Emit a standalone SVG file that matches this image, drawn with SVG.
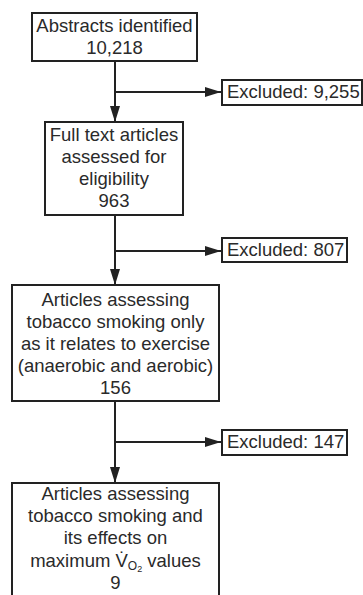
<svg xmlns="http://www.w3.org/2000/svg" width="363" height="595" viewBox="0 0 363 595">
<style>
.box{fill:#fff;stroke:#222;stroke-width:2}
.t{font-family:"Liberation Sans",Arial,sans-serif;font-size:18.5px;fill:#2a2a2a;text-anchor:middle}
.tl{font-family:"Liberation Sans",Arial,sans-serif;font-size:18.5px;fill:#2a2a2a}
.c{stroke:#222;stroke-width:2;fill:none}
</style>
<defs>
<marker id="ah" viewBox="0 0 16 10" refX="16" refY="5" markerWidth="16" markerHeight="10" markerUnits="userSpaceOnUse" orient="auto">
<path d="M0,0 L16,5 L0,10 Z" fill="#222"/>
</marker>
</defs>
<rect width="363" height="595" fill="#fff"/>
<g id="connectors">
<line class="c" x1="115" y1="61" x2="115" y2="122" marker-end="url(#ah)"/>
<line class="c" x1="115" y1="92" x2="221" y2="92" marker-end="url(#ah)"/>
<line class="c" x1="115" y1="215" x2="115" y2="285" marker-end="url(#ah)"/>
<line class="c" x1="115" y1="251" x2="221" y2="251" marker-end="url(#ah)"/>
<line class="c" x1="115" y1="401" x2="115" y2="483" marker-end="url(#ah)"/>
<line class="c" x1="115" y1="442" x2="221" y2="442" marker-end="url(#ah)"/>
</g>
<g id="n1">
<rect class="box" x="32" y="13" width="165" height="48"/>
<text class="t" x="114.5" y="32">Abstracts identified</text>
<text class="t" x="114.5" y="54">10,218</text>
</g>
<g id="x1">
<rect class="box" x="222" y="80" width="140" height="25"/>
<text class="tl" x="227" y="98">Excluded: 9,255</text>
</g>
<g id="n2">
<rect class="box" x="45" y="122" width="138" height="93"/>
<text class="t" x="114" y="141">Full text articles</text>
<text class="t" x="114" y="163">assessed for</text>
<text class="t" x="114" y="185">eligibility</text>
<text class="t" x="114" y="207">963</text>
</g>
<g id="x2">
<rect class="box" x="222" y="238" width="125" height="24"/>
<text class="tl" x="227" y="256">Excluded: 807</text>
</g>
<g id="n3">
<rect class="box" x="12" y="285" width="207" height="116"/>
<text class="t" x="115.5" y="306">Articles assessing</text>
<text class="t" x="115.5" y="328">tobacco smoking only</text>
<text class="t" x="115.5" y="350">as it relates to exercise</text>
<text class="t" x="115.5" y="372">(anaerobic and aerobic)</text>
<text class="t" x="115.5" y="394">156</text>
</g>
<g id="x3">
<rect class="box" x="222" y="430" width="125" height="25"/>
<text class="tl" x="227" y="448">Excluded: 147</text>
</g>
<g id="n4">
<rect class="box" x="12" y="483" width="207" height="130"/>
<text class="t" x="115.5" y="500">Articles assessing</text>
<text class="t" x="115.5" y="522">tobacco smoking and</text>
<text class="t" x="115.5" y="544">its effects on</text>
<text class="t" x="115.5" y="567">maximum V&#775;<tspan font-size="12" dy="3">O</tspan><tspan font-size="9" dy="2">2</tspan><tspan dy="-5"> values</tspan></text>
<text class="t" x="115.5" y="589">9</text>
</g>
</svg>
